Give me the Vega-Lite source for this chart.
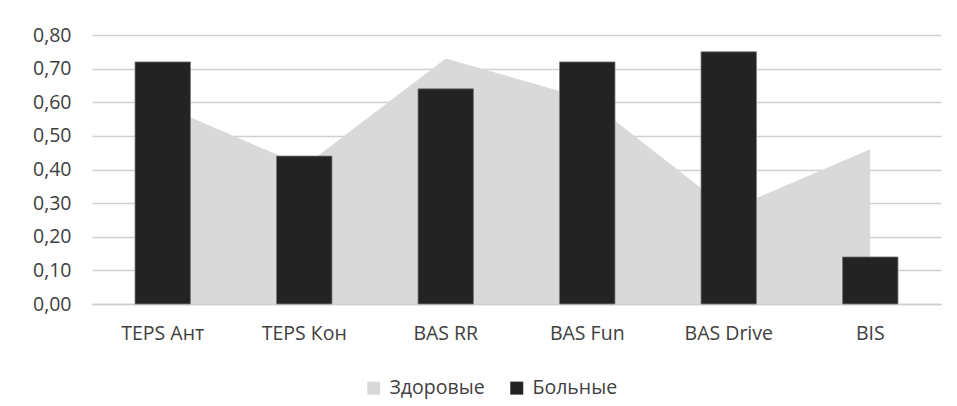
{
  "$schema": "https://vega.github.io/schema/vega-lite/v6.json",
  "autosize": {"type": "none"},
  "padding": {"left": 92, "top": 35, "right": 16, "bottom": 102},
  "width": 849,
  "height": 269,
  "background": "white",
  "config": {
    "view": {"stroke": null},
    "font": "Open Sans",
    "axis": {"labelFont": "Open Sans", "labelFontSize": 19.5, "labelColor": "#404040"},
    "legend": {"labelFont": "Open Sans", "labelFontSize": 19.5, "labelColor": "#404040"}
  },
  "data": {
    "values": [
      {"cat": "TEPS Ант", "series": "Здоровые", "value": 0.59},
      {"cat": "TEPS Кон", "series": "Здоровые", "value": 0.41},
      {"cat": "BAS RR", "series": "Здоровые", "value": 0.73},
      {"cat": "BAS Fun", "series": "Здоровые", "value": 0.61},
      {"cat": "BAS Drive", "series": "Здоровые", "value": 0.28},
      {"cat": "BIS", "series": "Здоровые", "value": 0.46},
      {"cat": "TEPS Ант", "series": "Больные", "value": 0.72},
      {"cat": "TEPS Кон", "series": "Больные", "value": 0.44},
      {"cat": "BAS RR", "series": "Больные", "value": 0.64},
      {"cat": "BAS Fun", "series": "Больные", "value": 0.72},
      {"cat": "BAS Drive", "series": "Больные", "value": 0.75},
      {"cat": "BIS", "series": "Больные", "value": 0.14}
    ]
  },
  "encoding": {
    "x": {
      "field": "cat", "type": "nominal",
      "sort": ["TEPS Ант", "TEPS Кон", "BAS RR", "BAS Fun", "BAS Drive", "BIS"],
      "scale": {"paddingInner": 0.608, "paddingOuter": 0.304},
      "axis": {"title": null, "labelAngle": 0, "ticks": false, "domain": true, "domainColor": "#d0d0d0", "domainWidth": 1.7, "labelPadding": 20}
    },
    "y": {
      "field": "value", "type": "quantitative",
      "scale": {"domain": [0, 0.8], "nice": false},
      "axis": {"title": null, "values": [0, 0.1, 0.2, 0.3, 0.4, 0.5, 0.6, 0.7, 0.8], "domain": false, "ticks": false, "gridColor": "#d0d0d0", "gridWidth": 1.7, "labelPadding": 21, "labelExpr": "replace(format(datum.value, '.2f'), '.', ',')"}
    },
    "color": {
      "field": "series", "type": "nominal",
      "scale": {"domain": ["Здоровые", "Больные"], "range": ["#d9d9d9", "#232323"]},
      "legend": {"title": null, "orient": "none", "direction": "horizontal", "legendX": 272, "legendY": 343, "symbolType": "square", "symbolSize": 169, "symbolStrokeWidth": 0, "columnPadding": 22, "labelOffset": 6}
    }
  },
  "layer": [
    {
      "transform": [{"filter": "datum.series === 'Здоровые'"}],
      "mark": {"type": "area", "opacity": 1}
    },
    {
      "transform": [{"filter": "datum.series === 'Больные'"}],
      "mark": {"type": "bar", "stroke": "#7a7a7a", "strokeWidth": 0.8}
    }
  ]
}
